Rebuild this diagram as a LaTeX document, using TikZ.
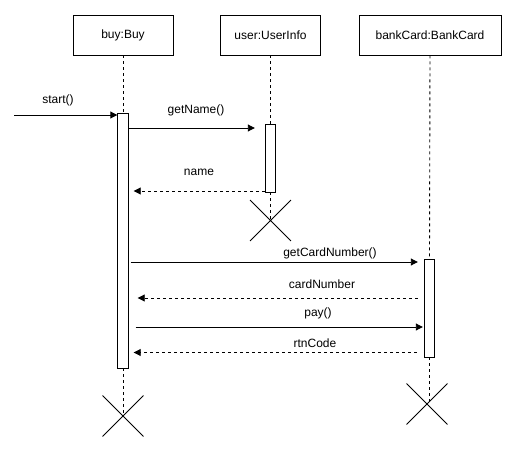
\documentclass[tikz,border=0pt]{standalone}
\usepackage{fontspec}
\setmainfont{Liberation Sans}
\usetikzlibrary{arrows.meta,shapes.misc}
\begin{document}
\begin{tikzpicture}[x=1pt,y=-1pt,
  font=\fontsize{12}{14}\selectfont, line width=0.9pt,
  obj/.style={draw, minimum height=40pt, inner sep=0pt},
  act/.style={draw, fill=white, minimum width=10.5pt, inner sep=0pt},
  msg/.style={-{Triangle[length=7pt,width=7pt]}},
  ret/.style={msg, dash pattern=on 3pt off 3pt},
  life/.style={dash pattern=on 3pt off 3pt},
  kill/.style={draw, cross out, minimum size=40pt, inner sep=0pt},
  lbl/.style={inner sep=0pt}]
\useasboundingbox (0,0) rectangle (517,452);
% objects
\node[obj, minimum width=100pt] (buy)  at (123,35) {buy:Buy};
\node[obj, minimum width=100pt] (user) at (270.5,35) {user:UserInfo};
\node[obj, minimum width=142pt] (bank) at (430,35) {bankCard:BankCard};
% activations
\node[act, minimum height=255pt] (buyact)  at (123,240.5) {};
\node[act, minimum height=68pt]  (useract) at (270.5,158) {};
\node[act, minimum height=98pt]  (bankact) at (429.5,308) {};
% destruction marks
\node[kill] (buyX)  at (123,416) {};
\node[kill] (userX) at (270.5,220.5) {};
\node[kill] (bankX) at (427,404) {};
% lifelines
\draw[life] (buy.south) -- (buyact.north);
\draw[life] (buyact.south) -- (buyX.center);
\draw[life] (user.south) -- (useract.north);
\draw[life] (useract.south) -- (userX.center);
\draw[life] (bank.south) -- (bankact.north);
\draw[life] (bankact.south) -- (bankact.south |- bankX.center);
% message levels
\coordinate (st)  at (14,115);
\coordinate (yGN) at (0,128);
\coordinate (yNM) at (0,191);
\coordinate (yGC) at (0,262);
\coordinate (yCN) at (0,298);
\coordinate (yPY) at (0,327);
\coordinate (yRC) at (0,352.5);
% messages
\draw[msg] (st) -- (st -| buyact.west);
\draw[msg] (buyact.east |- yGN) -- ([xshift=-10pt]useract.west |- yGN);
\draw[ret] (useract.west |- yNM) -- ([xshift=5pt]buyact.east |- yNM);
\draw[msg] ([xshift=2pt]buyact.east |- yGC) -- ([xshift=-6pt]bankact.west |- yGC);
\draw[ret] ([xshift=-6pt]bankact.west |- yCN) -- ([xshift=9pt]buyact.east |- yCN);
\draw[msg] ([xshift=7pt]buyact.east |- yPY) -- ([xshift=-1pt]bankact.west |- yPY);
\draw[ret] ([xshift=-7pt]bankact.west |- yRC) -- ([xshift=5pt]buyact.east |- yRC);
% labels
\node[lbl] (lst) at (58,100) {start()};
\node[lbl] (lgn) at (196,110) {getName()};
\node[lbl] (lnm) at (199,172) {name};
\node[lbl] (lgc) at (330,253) {getCardNumber()};
\node[lbl] (lcn) at (322,284) {cardNumber};
\node[lbl] (lpy) at (318,313) {pay()};
\node[lbl] (lrc) at (315,343) {rtnCode};
\end{tikzpicture}
\end{document}
